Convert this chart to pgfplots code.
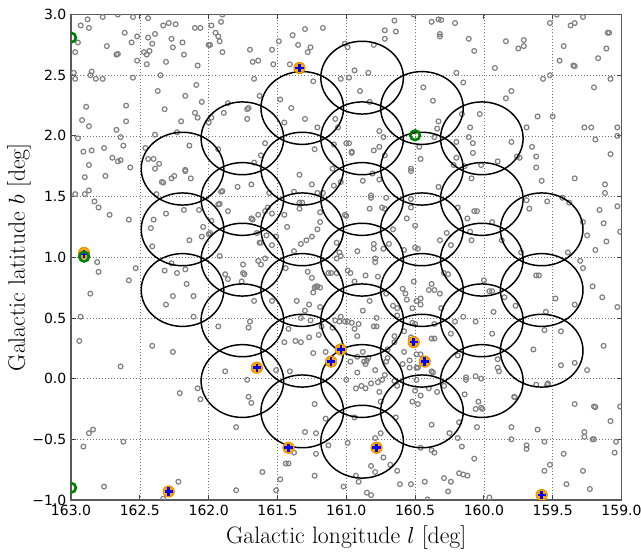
\documentclass[border=0pt]{standalone}
\usepackage{pgfplots}
\pgfplotsset{compat=1.18}
\usepackage{fontspec}
\newfontfamily\tickfont{DejaVu Sans}
\definecolor{ptgray}{RGB}{128,128,128}
\definecolor{mplgreen}{RGB}{0,128,0}
\definecolor{mplorange}{RGB}{255,165,0}
\newlength\beamrx \setlength\beamrx{30.94pt}
\newlength\beamry \setlength\beamry{27.28pt}
\pgfdeclareplotmark{beam}{\pgfpathellipse{\pgfpointorigin}{\pgfqpoint{\beamrx}{0pt}}{\pgfqpoint{0pt}{\beamry}}\pgfusepathqstroke}
\begin{document}
\begin{tikzpicture}
\begin{axis}[
  scale only axis, width=412.5pt, height=363.75pt,
  x dir=reverse,
  clip marker paths=true,
  xmin=159, xmax=163, ymin=-1, ymax=3,
  xtick={159,159.5,160,160.5,161,161.5,162,162.5,163},
  xticklabels={159.0,159.5,160.0,160.5,161.0,161.5,162.0,162.5,163.0},
  ytick={-1,-0.5,0,0.5,1,1.5,2,2.5,3},
  yticklabels={−1.0,−0.5,0.0,0.5,1.0,1.5,2.0,2.5,3.0},
  tick label style={font=\fontsize{10.5}{12}\selectfont\tickfont},
  tick align=inside, tick pos=both, major tick length=3.5pt,
  tick style={black!75, line width=0.6pt},
  axis line style={black!65, line width=0.9pt},
  grid=major,
  major grid style={black!55, line width=0.45pt, dash pattern=on 0.7pt off 1.6pt},
  xlabel={Galactic longitude $l$ [deg]},
  ylabel={Galactic latitude $b$ [deg]},
  label style={font=\fontsize{17.8}{21}\selectfont},
  xlabel style={at={(axis description cs:0.5,-0.0784)}, anchor=center},
  ylabel style={at={(axis description cs:-0.0945,0.5)}, anchor=center},
]
% field sources
\addplot[only marks, mark=o, mark size=1.8pt, draw=ptgray, mark options={line width=0.9pt}] table {
162.88 2.96
162.77 2.98
162.66 3.00
162.55 2.98
162.44 2.97
162.93 2.91
162.87 2.89
162.95 2.77
162.97 2.69
162.61 2.85
162.52 2.82
162.56 2.77
162.74 2.74
162.67 2.67
162.66 2.675
162.52 2.62
162.47 2.69
162.45 2.67
162.43 2.70
162.44 2.81
162.41 2.76
162.39 2.84
162.45 2.59
162.33 2.91
162.29 2.93
162.24 2.92
162.27 2.80
162.26 2.73
162.19 2.77
162.18 2.67
162.31 2.61
162.10 2.89
162.06 2.89
162.08 2.58
162.00 2.75
162.98 2.52
162.97 2.47
162.85 2.53
162.86 2.50
162.82 2.47
162.77 2.47
162.55 2.48
162.35 2.50
162.09 2.42
162.37 2.37
162.17 2.33
162.05 2.28
162.89 2.24
162.60 2.25
162.32 2.22
162.10 2.19
162.08 2.15
162.20 2.12
162.92 2.13
162.87 2.08
162.60 2.12
162.67 2.05
162.64 1.99
162.23 2.03
162.39 2.01
162.95 1.98
162.62 1.92
162.76 1.90
162.91 1.87
162.85 1.88
162.70 1.82
162.66 1.79
162.64 1.80
162.46 1.90
162.44 1.81
162.40 1.81
162.36 1.77
162.39 1.73
162.14 1.92
162.17 1.72
162.17 1.71
162.87 1.76
162.57 1.74
162.90 1.66
162.75 1.67
162.34 1.62
162.33 1.615
162.27 1.65
162.25 1.67
162.13 1.65
162.97 1.52
162.90 1.52
162.87 1.55
162.38 1.52
162.83 1.46
162.80 1.41
162.72 1.35
162.58 1.31
162.40 1.31
162.42 1.24
162.31 1.36
162.18 1.39
162.07 1.39
162.04 1.25
162.00 1.19
162.05 1.17
162.14 1.14
162.41 1.09
161.90 3.00
161.98 2.91
161.91 2.94
161.95 2.85
161.93 2.82
161.92 2.78
161.99 2.75
161.90 2.69
161.70 2.71
161.68 2.61
161.64 2.62
161.54 2.71
161.53 2.59
161.49 2.78
161.39 2.83
161.35 2.75
161.30 2.88
161.26 2.73
161.28 2.69
161.17 2.89
161.41 2.59
161.67 2.47
161.24 2.45
161.04 2.47
161.01 2.76
161.63 2.33
161.48 2.30
161.40 2.23
161.86 2.27
161.71 2.23
161.72 2.22
161.89 2.19
161.98 2.15
162.00 2.11
161.72 2.14
161.30 2.14
161.45 2.11
161.21 2.07
161.08 2.14
161.06 2.07
161.59 1.94
161.62 1.84
161.93 1.89
161.23 1.89
161.09 1.93
161.00 1.94
161.67 1.78
161.34 1.68
161.10 1.73
161.79 1.58
161.69 1.60
161.25 1.60
161.21 1.53
161.17 1.53
161.09 1.59
161.04 1.62
161.38 1.54
161.91 1.54
161.90 1.545
161.92 1.44
161.93 1.435
161.86 1.38
161.56 1.53
161.54 1.36
161.59 1.38
161.57 1.41
161.64 1.35
161.69 1.32
161.68 1.31
161.34 1.45
161.32 1.45
161.34 1.40
161.45 1.35
161.43 1.25
161.19 1.37
161.19 1.29
161.21 1.23
161.01 1.35
161.98 1.30
161.99 1.20
161.65 1.20
161.63 1.12
161.62 1.12
161.58 1.18
161.54 1.10
161.51 1.17
161.33 1.11
161.29 1.14
161.25 1.17
161.38 1.05
161.07 1.12
161.05 1.04
160.51 3.00
160.65 2.95
160.72 2.87
160.64 2.86
160.72 2.80
160.38 2.94
160.33 2.96
160.31 2.955
160.32 2.84
160.32 2.82
160.21 2.93
160.11 2.80
160.07 2.70
160.99 2.73
160.80 2.75
160.94 2.54
160.98 2.48
160.84 2.52
160.90 2.37
160.83 2.28
160.44 2.40
160.37 2.29
160.20 2.52
160.15 2.44
160.03 2.18
160.16 2.18
160.10 2.07
160.33 2.12
160.34 2.06
160.36 1.99
160.11 1.99
160.08 1.94
160.08 1.86
160.20 1.95
160.76 2.04
160.73 1.99
160.98 1.94
160.76 1.91
160.80 1.88
160.96 1.87
160.96 1.86
160.72 1.84
160.47 1.91
160.46 1.81
160.20 1.82
160.22 1.76
160.14 1.75
160.02 1.76
160.09 1.65
160.53 1.73
160.53 1.71
160.81 1.69
160.88 1.63
160.76 1.64
160.33 1.58
160.82 1.51
160.82 1.49
160.71 1.49
160.53 1.48
160.53 1.41
160.83 1.40
160.74 1.41
160.72 1.40
161.00 1.34
160.56 1.32
160.50 1.26
160.66 1.23
160.19 1.41
160.12 1.32
160.07 1.38
160.05 1.38
160.10 1.21
160.09 1.14
160.27 1.20
160.24 1.10
160.32 1.14
160.92 1.05
160.80 1.11
160.80 1.07
160.73 1.07
160.69 1.11
160.58 1.06
160.50 1.08
160.48 1.07
159.47 3.00
159.52 2.93
159.37 2.91
159.34 2.93
159.28 2.98
159.10 2.85
159.09 2.85
159.11 2.72
159.17 2.64
159.84 2.78
159.71 2.79
159.75 2.72
159.71 2.74
159.42 2.74
159.45 2.62
159.35 2.58
159.34 2.575
159.92 2.56
159.57 2.47
159.52 2.50
159.08 2.47
159.20 2.40
159.80 2.37
159.84 2.31
159.61 2.16
159.50 2.16
159.69 2.07
159.27 2.07
159.22 2.07
159.03 2.07
159.03 2.00
159.19 1.97
159.80 1.95
159.65 1.91
159.90 1.79
159.74 1.82
159.76 1.83
159.62 1.83
159.62 1.74
159.58 1.63
159.34 1.65
159.08 1.85
159.12 1.60
159.12 1.53
159.69 1.47
159.67 1.40
159.54 1.46
159.43 1.49
159.38 1.45
159.03 1.42
159.16 1.39
159.13 1.28
159.28 1.29
159.25 1.18
159.01 1.21
159.11 1.13
159.19 1.06
159.39 1.04
159.94 1.29
159.87 1.14
159.73 1.04
162.81 0.96
162.80 0.88
162.53 0.91
162.58 0.81
162.86 0.70
162.32 0.89
162.23 0.87
162.17 0.90
162.27 0.95
162.16 0.78
162.26 0.68
162.11 0.68
162.31 0.61
162.11 0.51
162.93 0.51
162.94 0.31
162.41 0.27
162.26 0.22
162.64 0.10
162.21 -0.12
162.08 -0.08
162.06 -0.17
162.84 -0.42
162.87 -0.45
162.91 -0.56
162.62 -0.52
162.76 -0.89
162.22 -0.85
162.33 -0.99
161.92 1.01
161.75 0.94
161.75 0.87
161.74 0.86
161.88 0.86
161.86 0.82
161.76 0.80
161.64 0.97
161.62 0.94
161.59 0.99
161.67 0.64
161.54 0.64
161.44 0.91
161.28 0.88
161.25 0.83
161.22 0.76
161.23 0.75
161.21 0.76
161.19 0.75
161.24 0.71
161.36 0.64
161.30 0.56
161.27 0.61
161.19 0.59
161.13 0.87
161.11 0.87
161.07 0.87
161.04 1.01
161.07 0.99
161.33 0.50
161.26 0.48
161.42 0.41
161.27 0.34
161.20 0.36
161.18 0.43
161.45 0.30
161.37 0.31
161.33 0.30
161.24 0.21
161.15 0.22
161.08 0.48
161.05 0.47
161.04 0.51
161.01 0.47
161.10 0.42
161.00 -0.01
161.51 0.07
161.41 0.06
161.70 0.47
161.71 0.42
161.93 0.43
161.88 0.06
161.72 -0.01
161.71 -0.15
161.69 -0.20
161.80 -0.40
161.23 -0.21
161.15 -0.33
161.30 -0.44
161.22 -0.45
161.13 -0.55
161.38 -0.61
161.22 -0.62
161.44 -0.70
161.42 -0.70
161.61 -0.77
161.48 -0.83
161.23 -0.80
161.02 -0.89
161.80 -0.92
161.51 -0.92
160.99 0.89
160.97 0.87
160.86 0.85
160.79 0.99
160.79 0.96
160.77 0.84
160.94 0.80
160.83 0.64
160.88 0.56
160.78 0.50
160.99 0.47
160.96 0.46
160.91 0.45
160.94 0.41
160.92 0.35
160.80 0.43
160.78 0.43
160.88 0.22
160.97 0.14
160.92 0.18
160.87 0.14
160.86 0.12
160.85 0.15
160.84 0.17
160.92 0.05
160.79 0.07
160.74 -0.01
160.77 -0.03
160.82 -0.04
160.86 -0.08
160.93 -0.08
160.89 -0.06
160.76 -0.11
160.72 0.03
160.71 0.14
160.70 0.17
160.70 0.24
160.65 0.30
160.65 0.35
160.63 0.52
160.66 0.60
160.63 0.58
160.71 0.70
160.59 0.74
160.57 0.70
160.56 0.65
160.51 0.80
160.49 0.64
160.46 0.66
160.52 0.58
160.46 0.61
160.38 0.78
160.40 0.73
160.36 0.73
160.32 0.70
160.29 0.87
160.26 0.86
160.31 0.58
160.36 0.45
160.21 0.47
160.15 0.51
160.06 0.47
160.24 0.37
160.38 0.33
160.36 0.33
160.52 0.46
160.50 0.45
160.58 0.39
160.53 0.34
160.58 0.22
160.54 0.15
160.49 0.20
160.46 0.20
160.59 0.12
160.54 0.09
160.49 0.09
160.48 0.09
160.38 0.06
160.37 0.05
160.19 0.19
160.13 0.01
160.13 -0.01
160.06 0.02
160.02 0.00
160.29 -0.06
160.34 -0.11
160.40 -0.08
160.49 -0.01
160.50 -0.10
160.46 -0.14
160.52 -0.19
160.48 -0.21
160.65 -0.02
160.63 -0.06
160.75 -0.19
160.14 -0.13
160.04 -0.19
160.06 -0.25
160.02 -0.24
160.05 -0.40
160.18 -0.36
160.38 -0.38
160.25 -0.45
160.19 -0.49
160.16 -0.56
160.07 -0.66
160.46 -0.57
160.38 -0.59
160.36 -0.61
160.64 -0.32
160.75 -0.45
160.79 -0.49
160.99 -0.53
160.94 -0.32
160.82 -0.72
160.79 -0.77
160.68 -0.71
160.63 -0.76
160.73 -0.65
160.93 -0.80
160.91 -0.85
160.85 -0.94
160.82 -0.96
160.61 -0.87
160.53 -0.87
160.43 -0.85
160.29 -0.82
160.24 -0.85
160.26 -0.93
160.18 -0.78
160.15 -0.79
160.12 -0.80
160.41 -0.995
159.30 0.97
159.28 0.91
159.21 0.76
159.14 0.67
159.03 0.59
159.62 0.85
159.60 0.85
159.48 0.66
159.34 0.61
159.55 0.55
160.00 0.81
159.96 0.72
159.94 0.72
159.85 0.67
159.77 0.60
159.93 0.55
159.94 0.37
159.56 0.40
159.44 0.39
159.64 0.24
159.13 0.27
159.44 0.11
159.34 0.13
159.25 0.07
159.90 0.16
159.90 0.09
159.89 0.06
159.62 -0.05
159.54 -0.05
159.535 -0.04
159.78 -0.15
159.775 -0.155
160.01 -0.25
159.34 -0.21
159.20 -0.23
159.19 -0.235
159.01 -0.23
159.08 -0.35
159.80 -0.40
159.61 -0.42
159.80 -0.50
159.56 -0.52
159.27 -0.44
159.27 -0.48
159.21 -0.50
159.20 -0.50
159.04 -0.52
159.05 -0.61
159.69 -0.55
159.69 -0.58
159.42 -0.62
159.52 -0.71
159.56 -0.76
159.28 -0.76
159.40 -0.87
159.23 -0.91
159.96 -0.98
};
% beams
\addplot[only marks, mark=beam, draw=black, mark options={line width=1.1pt}] table {
162.19 1.73
162.19 1.23
162.19 0.73
161.755 1.98
161.755 1.48
161.755 0.98
161.755 0.48
161.755 -0.02
161.32 2.23
161.32 1.73
161.32 1.23
161.32 0.73
161.32 0.23
161.32 -0.27
160.885 2.48
160.885 1.98
160.885 1.48
160.885 0.98
160.885 0.48
160.885 -0.02
160.885 -0.52
160.45 2.23
160.45 1.73
160.45 1.23
160.45 0.73
160.45 0.23
160.45 -0.27
160.015 1.98
160.015 1.48
160.015 0.98
160.015 0.48
160.015 -0.02
159.58 1.23
159.58 0.73
159.58 0.23
};
% orange sources
\addplot[only marks, mark=*, mark size=4.3pt, draw=mplorange!85!black, fill=mplorange, mark options={line width=0.5pt}] table {
161.34 2.56
162.905 1.035
161.65 0.09
161.11 0.14
161.04 0.24
161.42 -0.57
160.51 0.30
160.43 0.14
160.78 -0.57
159.58 -0.96
162.29 -0.93
};
\addplot[only marks, mark=+, mark size=3.1pt, draw=blue, mark options={line width=1.9pt}] table {
161.34 2.56
162.905 1.025
161.65 0.09
161.11 0.14
161.04 0.24
161.42 -0.57
160.51 0.30
160.43 0.14
160.78 -0.57
159.58 -0.96
162.29 -0.93
};
% green sources
\addplot[only marks, mark=o, mark size=3.6pt, draw=mplgreen, mark options={line width=2pt}] table {
163.0 2.81
162.905 1.005
160.50 2.005
163.0 -0.90
};
\end{axis}
\pgfresetboundingbox
\path ([xshift=-53.25pt,yshift=-40.1pt]current axis.south west) rectangle ([xshift=14.6pt,yshift=10.9pt]current axis.north east);
\end{tikzpicture}
\end{document}
